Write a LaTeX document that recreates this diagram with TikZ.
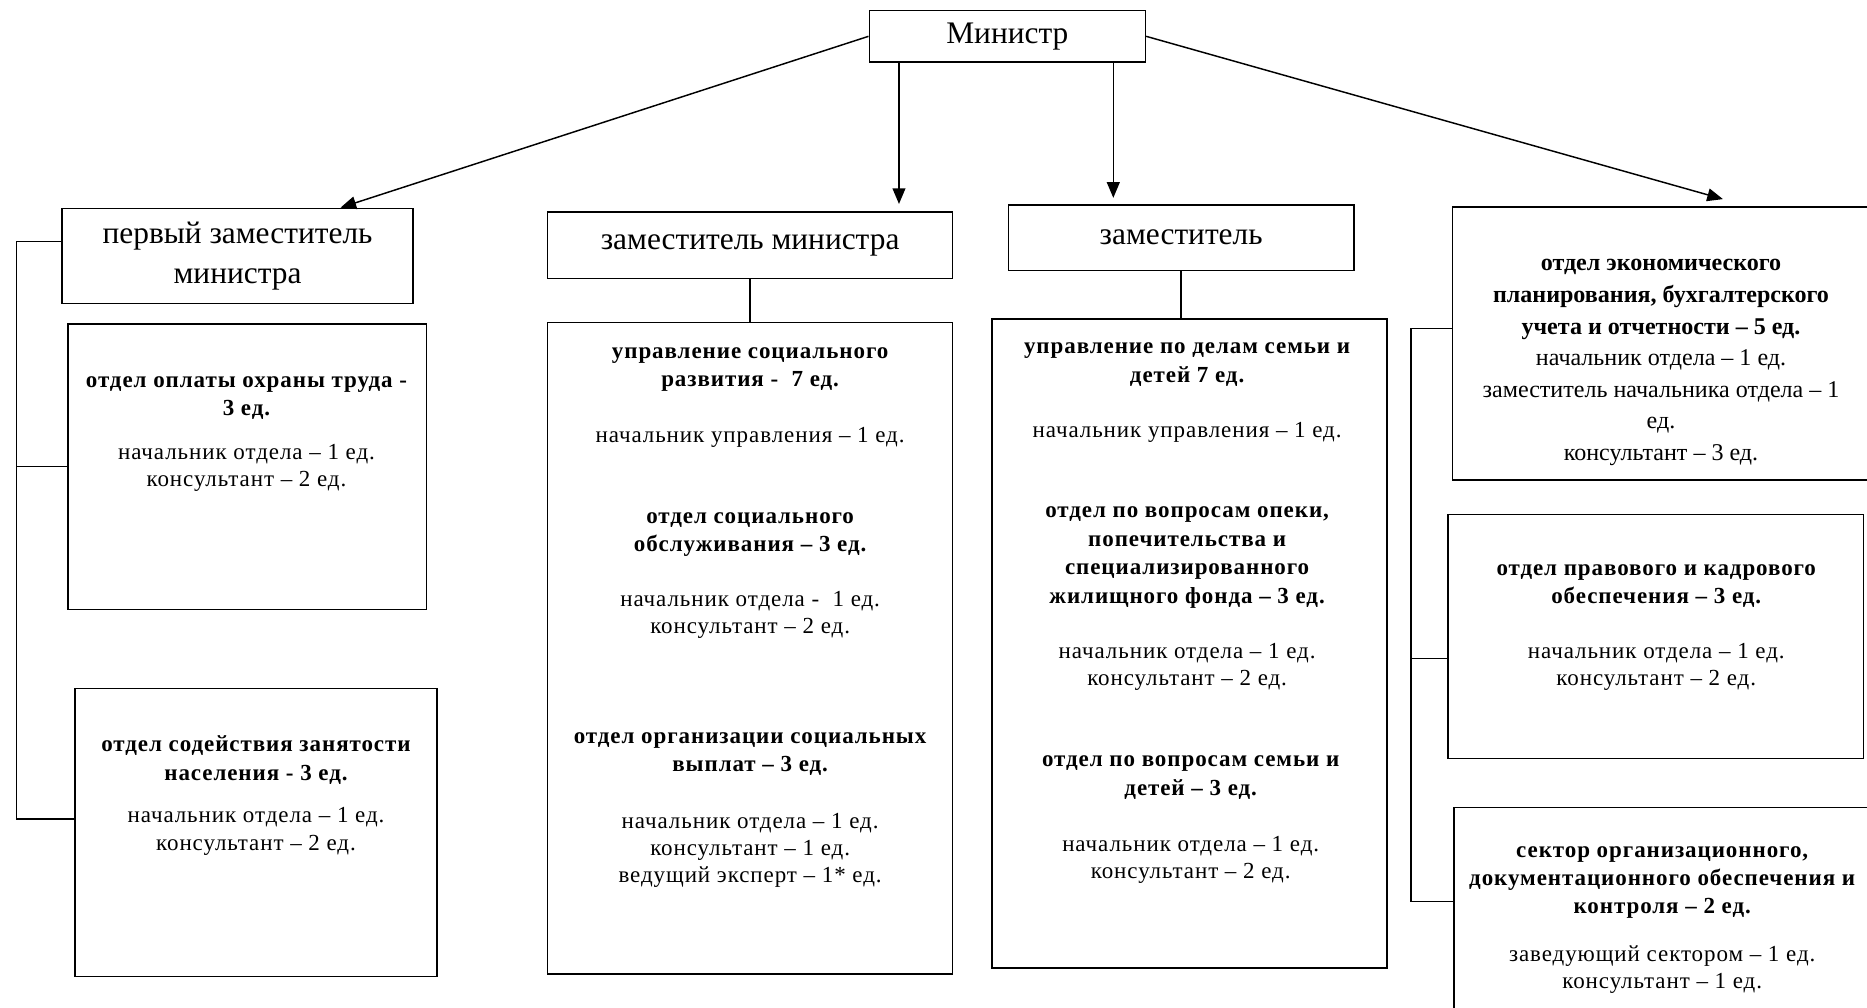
\documentclass[tikz,border=0pt]{standalone}
\usepackage{fontspec}
\setmainfont{Liberation Serif}
\newfontfamily\wideserif[LetterSpace=4]{Liberation Serif}
\usetikzlibrary{arrows}
\usetikzlibrary{fit}

\tikzset{
  headbox/.style={draw, inner sep=0pt, align=center, font=\fontsize{15}{19}\selectfont},
  unitbox/.style={draw, inner sep=0pt},
  ttl/.style={align=center, yshift=-1.8pt, font=\wideserif\bfseries\fontsize{11}{13.6}\selectfont},
  staff/.style={align=center, yshift=-1.8pt, font=\wideserif\fontsize{11}{13}\selectfont},
}

\begin{document}
\begin{tikzpicture}[x=0.02cm, y=-0.02cm, line width=0.7pt]
    \path[use as bounding box] (0,0) rectangle (1568,846);
    % Top.
    \node[headbox, minimum width=4.64cm, minimum height=0.86cm] (min) at (846,30.5) {\raisebox{-2pt}{Министр}};
    \node[headbox, minimum width=5.9cm, minimum height=1.6cm] (first) at (199.5,215) {первый заместитель\\министра};
    \node[headbox, minimum width=6.8cm, minimum height=1.12cm] (zmin) at (630,206) {заместитель министра};
    \node[headbox, minimum width=5.8cm, minimum height=1.1cm] (zam) at (992,199.5) {заместитель};
    \draw[-triangle 45] (min.west) -- (286,0 |- first.north);
    \draw[-triangle 45, shorten >=3.5pt] (755,0 |- min.south) -- (755,0 |- zmin.north);
    \draw[-triangle 45, shorten >=3pt] (935,0 |- min.south) -- (935,0 |- zam.north);
    \draw[-triangle 45, shorten >=0.5cm] (min.east) -- (1471,0 |- 0,174);
    % Left column.
    \node[unitbox, fit={(57,272) (358,512)}] (labor) {};
    \node[ttl] (laborttl) at (207,331) {отдел оплаты охраны труда -\\3 ед.};
    \node[staff] (laborstaff) at (207,390) {начальник отдела – 1 ед.\\консультант – 2 ед.};
    \node[unitbox, fit={(63,578) (367,820)}] (empl) {};
    \node[ttl] (emplttl) at (215,635) {отдел содействия занятости\\населения - 3 ед.};
    \node[staff] (emplstaff) at (215,695) {начальник отдела – 1 ед.\\консультант – 2 ед.};
    \draw (first.west |- 0,203) -- (14,203) -- (14,688) -- (empl.west |- 0,688);
    \draw (14,0 |- labor.west) -- (labor.west);
    % Social development.
    \node[unitbox, fit={(460,271) (800,818)}] (socdev) {};
    \draw (zmin.south) -- (socdev.north);
    \node[ttl] (socdevttl) at (630,307) {управление социального\\развития -~ 7 ед.};
    \node[staff] (socdevstaff) at (630,364) {начальник управления – 1 ед.};
    \node[ttl] (servttl) at (630,446) {отдел социального\\обслуживания – 3 ед.};
    \node[staff] (servstaff) at (630,513) {начальник отдела -~ 1 ед.\\консультант – 2 ед.};
    \node[ttl] (payttl) at (630,630) {отдел организации социальных\\выплат – 3 ед.};
    \node[staff] (paystaff) at (630,711) {начальник отдела – 1 ед.\\консультант – 1 ед.\\ведущий эксперт – 1* ед.};
    % Family and children.
    \node[unitbox, fit={(833,268) (1165,813)}] (family) {};
    \draw (zam.south) -- (zam.south |- family.north);
    \node[ttl] (familyttl) at (997,303) {управление по делам семьи и\\детей 7 ед.};
    \node[staff] (familystaff) at (997,360) {начальник управления – 1 ед.};
    \node[ttl] (guardttl) at (997,465) {отдел по вопросам опеки,\\попечительства и\\специализированного\\жилищного фонда – 3 ед.};
    \node[staff] (guardstaff) at (997,557) {начальник отдела – 1 ед.\\консультант – 2 ед.};
    \node[ttl] (childttl) at (1000,650) {отдел по вопросам семьи и\\детей – 3 ед.};
    \node[staff] (childstaff) at (1000,719) {начальник отдела – 1 ед.\\консультант – 2 ед.};
    % Right column.
    \node[unitbox, fit={(1220,174) (1590,403)}] (econ) {};
    \node[align=center, yshift=-2pt, font=\fontsize{11.5}{15.1}\selectfont] (econtxt) at (1395,301)
      {\textbf{отдел экономического}\\\textbf{планирования, бухгалтерского}\\\textbf{учета и отчетности – 5 ед.}\\
       начальник отдела – 1 ед.\\заместитель начальника отдела – 1\\ед.\\консультант – 3 ед.};
    \node[unitbox, fit={(1216,432) (1565,637)}] (legal) {};
    \node[ttl] (legalttl) at (1391,489) {отдел правового и кадрового\\обеспечения – 3 ед.};
    \node[staff] (legalstaff) at (1391,557) {начальник отдела – 1 ед.\\консультант – 2 ед.};
    \node[unitbox, fit={(1221,678) (1590,880)}] (sector) {};
    \node[ttl] (sectorttl) at (1396,738) {сектор организационного,\\документационного обеспечения и\\контроля – 2 ед.};
    \node[staff] (sectorstaff) at (1396,811) {заведующий сектором – 1 ед.\\консультант – 1 ед.};
    \draw (econ.west |- 0,276) -- (1185,276) -- (1185,757) -- (sector.west |- 0,757);
    \draw (1185,553) -- (legal.west |- 0,553);
\end{tikzpicture}
\end{document}
